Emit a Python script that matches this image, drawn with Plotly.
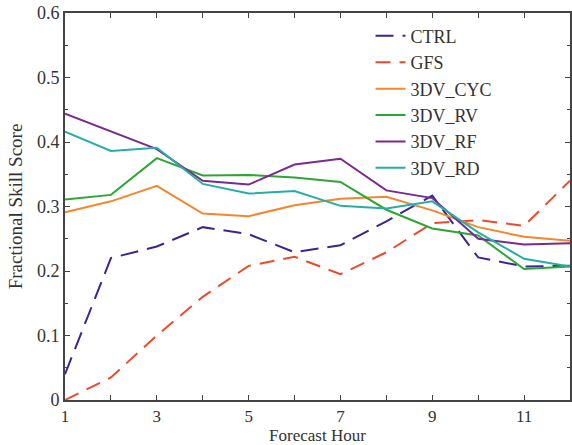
import plotly.graph_objects as go

hours = [1, 2, 3, 4, 5, 6, 7, 8, 9, 10, 11, 12]
ctrl = [0.040, 0.220, 0.238, 0.268, 0.257, 0.229, 0.240, 0.277, 0.317, 0.221, 0.207, 0.208]
gfs = [0.000, 0.035, 0.100, 0.160, 0.208, 0.222, 0.195, 0.229, 0.274, 0.279, 0.270, 0.340]
cyc = [0.291, 0.308, 0.332, 0.289, 0.285, 0.302, 0.312, 0.315, 0.294, 0.268, 0.253, 0.247]
rv = [0.311, 0.318, 0.375, 0.348, 0.349, 0.345, 0.338, 0.295, 0.266, 0.255, 0.203, 0.207]
rf = [0.444, 0.417, 0.389, 0.340, 0.334, 0.365, 0.374, 0.325, 0.313, 0.250, 0.241, 0.243]
rd = [0.416, 0.386, 0.391, 0.335, 0.320, 0.324, 0.301, 0.297, 0.308, 0.260, 0.219, 0.207]

names = ["CTRL", "GFS", "3DV_CYC", "3DV_RV", "3DV_RF", "3DV_RD"]
series = [ctrl, gfs, cyc, rv, rf, rd]
colors = ["#3f2390", "#ec4a2c", "#f5862e", "#2fa536", "#7a2a8e", "#27ada5"]
dashes = ["18px,9px", "15px,9px", "solid", "solid", "solid", "solid"]

x_ticks = hours
x_ticktext = [str(h) if h % 2 == 1 else "" for h in hours]
y_ticks = [0, 0.1, 0.2, 0.3, 0.4, 0.5, 0.6]
y_ticktext = ["0", "0.1", "0.2", "0.3", "0.4", "0.5", "0.6"]

fig = go.Figure()
for n, s, c, d in zip(names, series, colors, dashes):
    fig.add_trace(go.Scatter(x=hours, y=s, mode="lines", name=n,
                             line=dict(color=c, width=2, dash=d)))

font = "Liberation Serif, Times New Roman, serif"
fig.update_layout(
    width=572, height=445,
    margin=dict(l=65, r=0, t=13, b=45),
    paper_bgcolor="white", plot_bgcolor="white",
    font=dict(family=font, size=18, color="#333333"),
    showlegend=True,
    legend=dict(x=0.605, y=0.988, xanchor="left", yanchor="top",
                bgcolor="rgba(0,0,0,0)", font=dict(family=font, size=18, color="#333333"),
                itemwidth=30, tracegroupgap=0),
)
fig.update_xaxes(
    range=[1, 12], tickvals=x_ticks, ticktext=x_ticktext,
    tickfont=dict(size=17),
    ticks="inside", ticklen=5, tickwidth=1, tickcolor="#444",
    showline=True, linecolor="#444", linewidth=2, mirror="ticks",
    showgrid=False, zeroline=False,
    title=dict(text="Forecast Hour", font=dict(family=font, size=17, color="#333"), standoff=6),
)
fig.update_yaxes(
    range=[0, 0.6], tickvals=y_ticks, ticktext=y_ticktext,
    ticks="inside", ticklen=5, tickwidth=1, tickcolor="#444",
    minor=dict(dtick=0.05, ticks="inside", ticklen=3, tickcolor="#444", showgrid=False),
    showline=True, linecolor="#444", linewidth=2, mirror="ticks",
    showgrid=False, zeroline=False,
    title=dict(text="Fractional Skill Score", font=dict(family=font, size=19, color="#333"), standoff=9),
)

fig.write_html("out.html", config={"displayModeBar": False},
               post_script="document.body.style.margin='0';document.body.style.overflow='hidden';")
